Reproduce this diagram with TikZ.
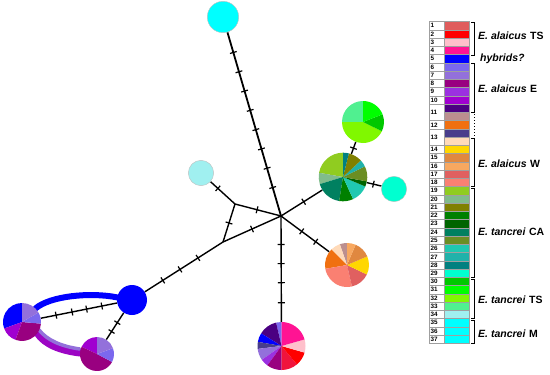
\documentclass[tikz,border=0pt]{standalone}
\usepackage{fontspec}
\setmainfont{Liberation Sans}
\usepackage{xcolor}
\usepackage{tikz}
\usetikzlibrary{backgrounds}
% haplotype colours, in legend order
\definecolor{h01}{HTML}{E05C5C}
\definecolor{h02}{HTML}{FF0000}
\definecolor{h03}{HTML}{FFC0CB}
\definecolor{h04}{HTML}{FF1493}
\definecolor{h05}{HTML}{0000FF}
\definecolor{h06}{HTML}{7B68EE}
\definecolor{h07}{HTML}{9370DB}
\definecolor{h08}{HTML}{990080}
\definecolor{h09}{HTML}{9B30E0}
\definecolor{h10}{HTML}{A000D0}
\definecolor{h11}{HTML}{4B0082}
\definecolor{h11b}{HTML}{BC8F8F}
\definecolor{h12}{HTML}{F07010}
\definecolor{h13}{HTML}{483D8B}
\definecolor{h13b}{HTML}{FFDAB9}
\definecolor{h14}{HTML}{FFD700}
\definecolor{h15}{HTML}{E08840}
\definecolor{h16}{HTML}{F8A860}
\definecolor{h17}{HTML}{E06060}
\definecolor{h18}{HTML}{FA8072}
\definecolor{h19}{HTML}{90CC20}
\definecolor{h20}{HTML}{80BC8C}
\definecolor{h21}{HTML}{808000}
\definecolor{h22}{HTML}{008000}
\definecolor{h23}{HTML}{006400}
\definecolor{h24}{HTML}{008060}
\definecolor{h25}{HTML}{6B8E23}
\definecolor{h26}{HTML}{20C8B0}
\definecolor{h27}{HTML}{20B2AA}
\definecolor{h28}{HTML}{008080}
\definecolor{h29}{HTML}{00FFD0}
\definecolor{h30}{HTML}{00C800}
\definecolor{h31}{HTML}{00FF00}
\definecolor{h32}{HTML}{80F800}
\definecolor{h33}{HTML}{50F090}
\definecolor{h34}{HTML}{A0F0F0}
\definecolor{h35}{HTML}{00FFFF}
\definecolor{h36}{HTML}{00FFFF}
\definecolor{h37}{HTML}{00FFFF}
\definecolor{hcr}{HTML}{F0143C}
\definecolor{hpur}{HTML}{9C05C4}
\tikzset{
  hap/.style={circle, draw=gray!50, line width=0.4pt, inner sep=0pt},
  pie/.style={circle, draw=none, inner sep=0pt},
  edge/.style={line width=1.4pt, black},
  mut/.style={sloped, fill=black, inner sep=0pt, minimum width=1.2pt, minimum height=7pt},
  band/.style={line width=6pt, line cap=round},
  swatch/.style={draw=gray!75, line width=0.45pt, minimum width=25pt, minimum height=8.25pt, inner sep=0pt},
  numcell/.style={draw=gray!75, line width=0.45pt, fill=white, text width=12pt, inner xsep=1.5pt, inner ysep=0pt, align=left, font=\bfseries\fontsize{6.3}{6.3}\selectfont},
  group/.style={anchor=west, inner sep=0pt, font=\bfseries\fontsize{10.5}{12}\selectfont},
  bracket/.style={line width=1pt}
}
\newcommand{\piechart}[3]{%
  \foreach \a/\b/\c in {#3} {
    \fill[\c] (#1.center) -- ++(\a:#2) arc[start angle=\a, end angle=\b, radius=#2] -- cycle;
  }%
}
\begin{document}
\begin{tikzpicture}[x=1pt, y=-1pt]
  \useasboundingbox (0,0) rectangle (550,375);

  % network
  \coordinate (hub) at (281,216);
  \coordinate (j1) at (235,204);
  \coordinate (j2) at (223,242);
  \node[hap, fill=h35, minimum size=31.4pt] (top) at (223,17) {};
  \node[hap, fill=h34, minimum size=25.4pt] (pale) at (201,173) {};
  \node[hap, fill=h29, minimum size=25.4pt] (aqua) at (394,189) {};
  \node[hap, fill=h05, draw=none, minimum size=30pt] (blu) at (132,300) {};

  \node[pie, minimum size=38pt] (pE1) at (22,322) {};
  \piechart{pE1}{19pt}{90/200/h05, 200/250/h10, 250/355/h08, 355/390/h06, 30/90/h07}
  \node[pie, minimum size=34pt] (pE2) at (97,354) {};
  \piechart{pE2}{17pt}{90/155/h10, 155/332/h08, 332/380/h06, 20/90/h07}
  \node[pie, minimum size=48pt] (pTS) at (281.5,346) {};
  \piechart{pTS}{24pt}{90/103/h06, 103/148/h11, 148/170/h05, 170/187/h13, 187/215/h07, 215/234/h09, 234/270/h08, 270/310/hcr, 310/344/h02, 344/376/h03, 16/90/h04}
  \node[pie, minimum size=44pt] (pW) at (347,265) {};
  \piechart{pW}{22pt}{90/109/h11b, 109/135/h13b, 135/190/h12, 190/283/h18, 283/334.5/h17, 334.5/383/h14, 23/67/h15, 67/90/h16}
  \node[pie, minimum size=48.6pt] (pCA) at (343,177) {};
  \piechart{pCA}{24.3pt}{90/170/h19, 170/197/h20, 197/261/h24, 261/294.5/h22, 294.5/337/h26, 337/349.5/h23, 349.5/386/h25, 26/43/h27, 43/76/h21, 76/90/h28}
  \node[pie, minimum size=42pt] (pTT) at (363,122) {};
  \piechart{pTT}{21pt}{90/180/h33, 180/334/h32, 334/381.6/h30, 21.6/90/h31}

  \begin{scope}[on background layer]
    \draw[band, h05] (pE1.45) .. controls (50,296) and (90,292) .. (blu.170);
    \draw[band, hpur, line width=8pt] (pE1.-35) .. controls (45,344) and (60,350) .. (pE2.175);
    \draw[band, h07, line width=3.5pt] ([shift={(1,-3.5)}]pE1.-35) .. controls (47,340.5) and (62,346.5) .. ([shift={(0,-3.5)}]pE2.175);

    \draw[edge, line width=1.8pt] (top) -- (hub)
      \foreach \p [count=\k] in {0.11,0.215,0.32,0.425,0.53,0.635,0.74,0.845} {node[mut, pos=\p] (mt\k) {}};
    \draw[edge] (pale) -- (j1) node[mut, pos=0.3] (mp1) {};
    \draw[edge] (j1) -- (hub) node[mut, pos=0.48] (mj1) {};
    \draw[edge] (j1) -- (j2) node[mut, pos=0.5] (mj2) {};
    \draw[edge] (j2) -- (hub) node[mut, pos=0.5] (mj3) {};
    \draw[edge] (j2) -- (blu)
      \foreach \p [count=\k] in {0.32,0.55,0.77} {node[mut, pos=\p] (mb\k) {}};
    \draw[edge] (blu) -- (pE1)
      \foreach \p [count=\k] in {0.2,0.4,0.59,0.8} {node[mut, pos=\p] (me\k) {}};
    \draw[edge] (blu) -- (pE2)
      \foreach \p [count=\k] in {0.37,0.7} {node[mut, pos=\p] (mf\k) {}};
    \draw[edge] (hub) -- (pTS)
      \foreach \p [count=\k] in {0.27,0.45,0.63,0.82} {node[mut, pos=\p] (ms\k) {}};
    \draw[edge] (hub) -- (pW)
      \foreach \p [count=\k] in {0.43,0.72} {node[mut, pos=\p] (mw\k) {}};
    \draw[edge] (hub) -- (pCA) node[mut, pos=0.55] (mc1) {};
    \draw[edge] (pCA) -- (pTT) node[mut, pos=0.48] (mc2) {};
    \draw[edge] (pCA) -- (aqua) node[mut, pos=0.45] (mc3) {};
  \end{scope}

  % legend
  \foreach \c [count=\i] in {h01,h02,h03,h04,h05,h06,h07,h08,h09,h10,h11,h11b,h12,h13,h13b,h14,h15,h16,h17,h18,h19,h20,h21,h22,h23,h24,h25,h26,h27,h28,h29,h30,h31,h32,h33,h34,h35,h36,h37} {
    \node[swatch, fill=\c] (sw\i) at (456.5,{17.575+8.25*\i}) {};
  }
  \foreach \n in {1,...,10} {
    \node[numcell, minimum height=8.25pt] (n\n) at (436.5,{17.575+8.25*\n}) {\n};
  }
  \node[numcell, minimum height=16.5pt] (n11) at (436.5,{21.7+8.25*11}) {11};
  \node[numcell, minimum height=8.25pt] (n12) at (436.5,{17.575+8.25*13}) {12};
  \node[numcell, minimum height=16.5pt] (n13) at (436.5,{21.7+8.25*14}) {13};
  \foreach \n in {14,...,37} {
    \node[numcell, minimum height=8.25pt] (n\n) at (436.5,{17.575+8.25*(\n+2)}) {\n};
  }

  \foreach \ya/\yb in {22/55, 63/112, 138/186, 188/277, 279/318, 320/343.5} {
    \draw[bracket] (471,\ya) -- (474,\ya) -- (474,\yb) -- (471,\yb);
  }
  \draw[bracket, dotted] (474.5,114) -- (474.5,137);

  \node[group] (gAT) at (478,36) {\textit{E. alaicus}\hspace{3.5pt}TS};
  \node[group] (gHy) at (480,59) {\textit{hybrids?}};
  \node[group] (gAE) at (478,89) {\textit{E. alaicus}\hspace{3.5pt}E};
  \node[group] (gAW) at (478,164) {\textit{E. alaicus}\hspace{3.5pt}W};
  \node[group] (gCA) at (478,232) {\textit{E. tancrei}\hspace{3.5pt}CA};
  \node[group] (gTT) at (478,300) {\textit{E. tancrei}\hspace{3.5pt}TS};
  \node[group] (gTM) at (478,334) {\textit{E. tancrei}\hspace{3.5pt}M};
\end{tikzpicture}
\end{document}
